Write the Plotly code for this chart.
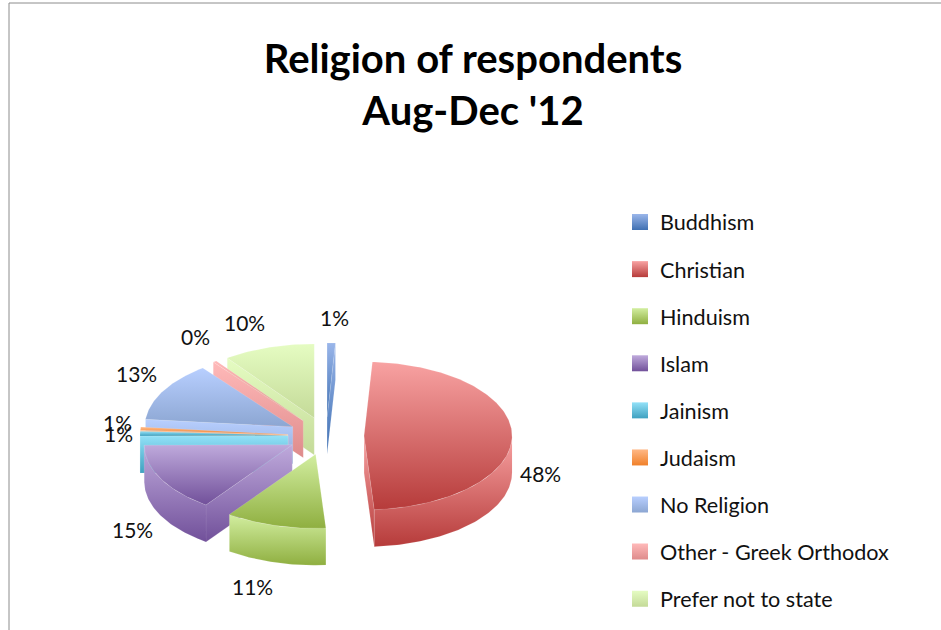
import numpy as np
import plotly.graph_objects as go

# ---- data ----
categories = ["Buddhism", "Christian", "Hinduism", "Islam", "Jainism", "Judaism",
              "No Religion", "Other - Greek Orthodox", "Prefer not to state"]
values = [0.9, 48, 11, 15, 1, 0.7, 13, 0.4, 10]

# ---- style ----
top_colors = ["#9AB6EA", "#F8A2A2", "#D2EEA0", "#BFAADC", "#93E1F8", "#FFB886", "#B8CFFF", "#FFB9B9", "#E5FCC2"]
bottom_colors = ["#3F70B2", "#B63B3A", "#8FAF40", "#71509A", "#3FA1C0", "#F08029", "#8CA6D2", "#DE8B8B", "#C4DA98"]
label_nudges = [(3, -26), (28, 38), (-23, 61), (-28, 51), (-22, 0), (-23, -6), (-27, -17), (-19, -25), (-24, -25)]
draw_order = [0, 8, 7, 6, 5, 4, 3, 2, 1]

WIDTH, HEIGHT = 941, 630
CX, CY, RX, RY = 326, 436, 148, 74      # pixel centre and radii of the tilted pie
PULL = 0.257
DEPTH = 0.5
TEXT = "#111111"
FONT = "Lato, Carlito, sans-serif"

fractions = np.array(values, dtype=float) / sum(values)
edges = np.concatenate([[0], np.cumsum(fractions)]) * 360


def arc(a0, a1):
    n = max(2, int(abs(a1 - a0)) + 2)
    t = np.radians(np.linspace(a0, a1, n))
    return np.sin(t), np.cos(t)


def face(x, y, i):
    return go.Scatter(
        x=x, y=y, mode="lines", fill="toself",
        line=dict(width=0.5, color="rgba(255,255,255,0.25)"),
        fillgradient=dict(type="vertical",
                          colorscale=[[0, bottom_colors[i]], [1, top_colors[i]]]),
        showlegend=False, hoverinfo="skip",
    )


fig = go.Figure()
annotations = []
for i in draw_order:
    a0, a1 = edges[i], edges[i + 1]
    mid = np.radians((a0 + a1) / 2)
    ox, oy = PULL * np.sin(mid), PULL * np.cos(mid)

    # start wall is visible on the left half, end wall on the right half
    wall_angle = a0 if a0 > 180 else (a1 if a1 < 180 else None)
    if wall_angle is not None:
        ex, ey = np.sin(np.radians(wall_angle)), np.cos(np.radians(wall_angle))
        fig.add_trace(face([ox, ox + ex, ox + ex, ox, ox],
                           [oy, oy + ey, oy + ey - DEPTH, oy - DEPTH, oy], i))

    # outer rim, only where it faces the viewer
    f0, f1 = max(a0, 90), min(a1, 270)
    if f1 > f0:
        sx, sy = arc(f0, f1)
        fig.add_trace(face(np.concatenate([ox + sx, (ox + sx)[::-1]]),
                           np.concatenate([oy + sy, (oy + sy - DEPTH)[::-1]]), i))

    # top surface
    sx, sy = arc(a0, a1)
    fig.add_trace(face(np.concatenate([[ox], ox + sx, [ox]]),
                       np.concatenate([[oy], oy + sy, [oy]]), i))

    # percentage label
    dx, dy = label_nudges[i]
    annotations.append(dict(
        x=ox + np.sin(mid), y=oy + np.cos(mid), xref="x", yref="y",
        text=f"{values[i]:.0f}%", showarrow=False, xshift=dx, yshift=-dy,
        font=dict(family=FONT, size=21, color=TEXT),
    ))

for i, name in enumerate(categories):
    fig.add_trace(go.Scatter(
        x=[None], y=[None], mode="markers", name=name,
        legendgroup=name, hoverinfo="skip",
        marker=dict(symbol="square", size=16, color=top_colors[i],
                    gradient=dict(type="vertical", color=bottom_colors[i]),
                    line=dict(width=0)),
    ))

fig.update_layout(
    width=WIDTH, height=HEIGHT, margin=dict(l=0, r=0, t=0, b=0),
    paper_bgcolor="white", plot_bgcolor="white",
    title=dict(
        text="Religion of respondents<br>Aug-Dec '12",
        x=473 / WIDTH, xanchor="center", y=1 - 73 / HEIGHT, yanchor="top",
        font=dict(family=FONT, size=40, color="#000000", weight="bold"),
    ),
    xaxis=dict(visible=False, fixedrange=True,
               range=[-CX / RX, (WIDTH - CX) / RX], domain=[0, 1]),
    yaxis=dict(visible=False, fixedrange=True,
               range=[-(HEIGHT - CY) / RY, CY / RY], domain=[0, 1]),
    legend=dict(
        x=620 / WIDTH, xanchor="left", y=1 - 201.5 / HEIGHT, yanchor="top",
        font=dict(family=FONT, size=21.6, color=TEXT),
        tracegroupgap=16, itemclick=False, itemdoubleclick=False,
        bgcolor="rgba(0,0,0,0)", borderwidth=0,
    ),
    annotations=annotations,
    shapes=[dict(type="rect", xref="paper", yref="paper",
                 x0=9 / WIDTH, x1=1.2, y0=-0.2, y1=1 - 3 / HEIGHT,
                 line=dict(color="#8C8C8C", width=1), layer="below")],
)

fig.write_html("out.html", config={"displayModeBar": False},
               post_script="document.body.style.margin='0';document.body.style.overflow='hidden';")
